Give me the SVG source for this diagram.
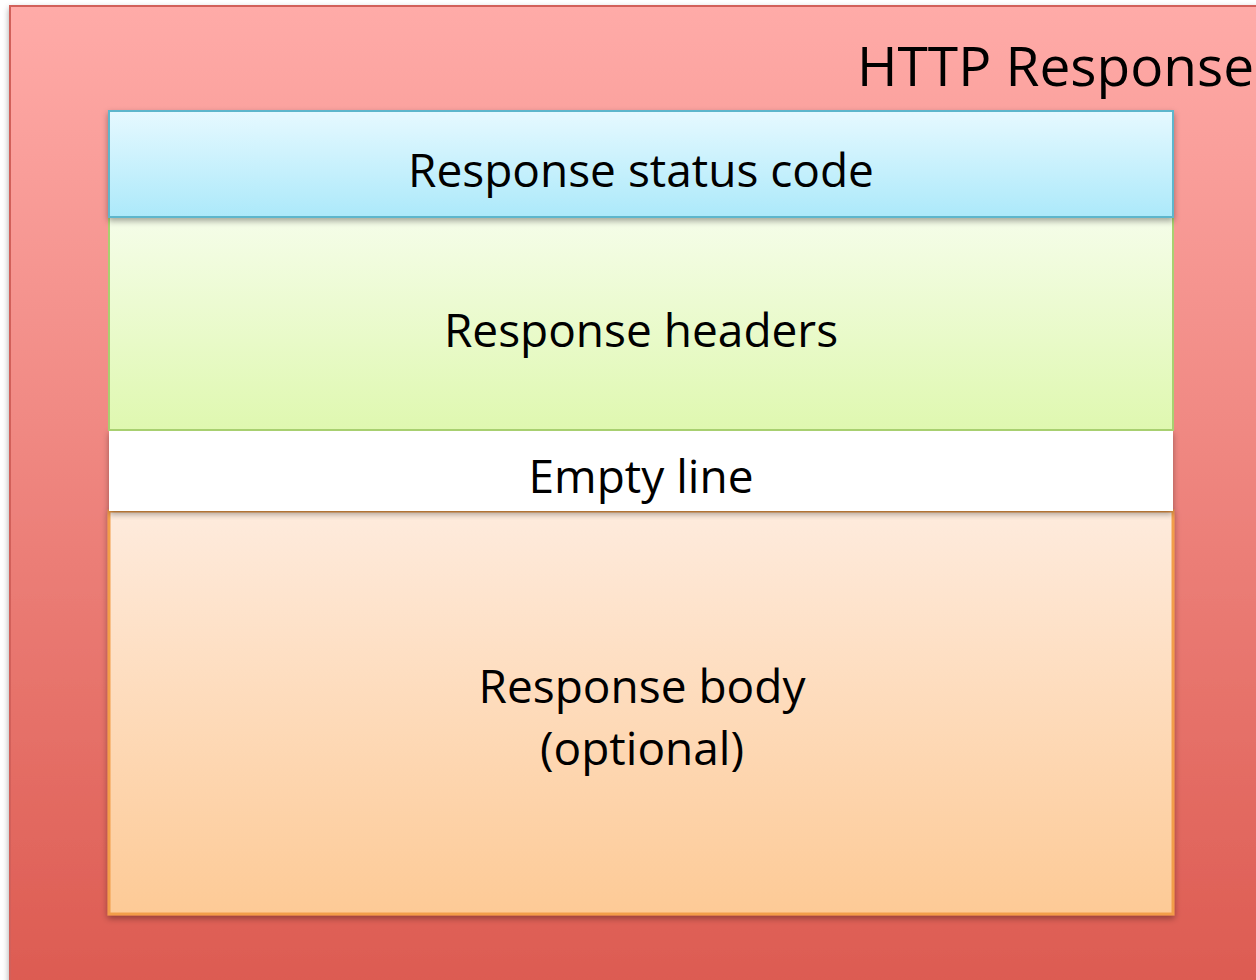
<svg xmlns="http://www.w3.org/2000/svg" width="1256" height="980" viewBox="0 0 1256 980">
<defs>
<linearGradient id="gOuter" x1="0" y1="0" x2="0" y2="1"><stop offset="0" stop-color="#ffaba8"/><stop offset="1" stop-color="#dc5a50"/></linearGradient>
<linearGradient id="gStatus" x1="0" y1="0" x2="0" y2="1"><stop offset="0" stop-color="#e6f9ff"/><stop offset="1" stop-color="#ace9fa"/></linearGradient>
<linearGradient id="gHead" x1="0" y1="0" x2="0" y2="1"><stop offset="0" stop-color="#f5fde9"/><stop offset="1" stop-color="#dff8b0"/></linearGradient>
<linearGradient id="gBody" x1="0" y1="0" x2="0" y2="1"><stop offset="0" stop-color="#feebdd"/><stop offset="1" stop-color="#fdca96"/></linearGradient>
<filter id="sh" x="-5%" y="-5%" width="110%" height="115%"><feDropShadow dx="0" dy="3" stdDeviation="3" flood-color="#000" flood-opacity="0.35"/></filter>
</defs>
<style>
text{font-family:"Open Sans","Liberation Sans",sans-serif;fill:#000;}
.lbl{font-size:46px;text-anchor:middle;}
.ttl{font-size:55px;}
</style>
<rect width="1256" height="980" fill="#ffffff"/>
<g id="outer">
<rect x="10" y="6" width="1260" height="990" fill="url(#gOuter)" stroke="#d2615a" stroke-width="2" filter="url(#sh)"/>
<text class="ttl" x="857" y="86">HTTP Response</text>
</g>
<g id="body">
<rect x="109" y="511" width="1064" height="403" fill="url(#gBody)" stroke="#f29e4a" stroke-width="3" filter="url(#sh)"/>
<text class="lbl" x="642" y="703">Response body</text>
<text class="lbl" x="642" y="765">(optional)</text>
</g>
<g id="empty">
<rect x="109" y="430" width="1064" height="81" fill="#ffffff" filter="url(#sh)"/>
<text class="lbl" x="641" y="493">Empty line</text>
</g>
<g id="headers">
<rect x="109" y="217" width="1064" height="213" fill="url(#gHead)" stroke="#a8d070" stroke-width="2"/>
<text class="lbl" x="641" y="347">Response headers</text>
</g>
<g id="status">
<rect x="109" y="111" width="1064" height="106" fill="url(#gStatus)" stroke="#5db6cc" stroke-width="2" filter="url(#sh)"/>
<text class="lbl" x="641" y="187">Response status code</text>
</g>
<g id="connectors"/>
</svg>
